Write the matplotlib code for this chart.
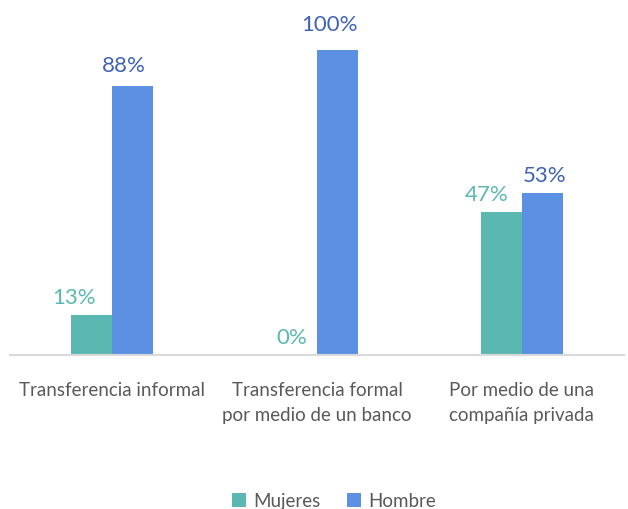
import matplotlib
matplotlib.use("Agg")
import matplotlib.pyplot as plt
import numpy as np

categories = ["Transferencia informal", "Transferencia formal\npor medio de un banco", "Por medio de una\ncompañía privada"]
mujeres = [13, 0, 47]
hombre = [88, 100, 53]
series_names = ["Mujeres", "Hombre"]

# label nudges in pixels (layout only)
nudge_m = [(-18, 8), (-5, 8), (-15, 8)]
nudge_h = [(-9, 11), (-8, 16), (2, 8)]

plt.rcParams['font.family'] = ['Lato', 'DejaVu Sans']

fig = plt.figure(figsize=(6.28, 5.10), dpi=100)
ax = fig.add_axes([10/628, 154/510, 614/628, 346/510])
px = 72 / 100.0

x = np.arange(len(categories))
w = 0.2
c_m = "#5BB8B1"
c_h = "#5B90E3"
b1 = ax.bar(x - w/2, mujeres, w, color=c_m, label=series_names[0])
b2 = ax.bar(x + w/2, hombre, w, color=c_h, label=series_names[1])

for xi, v, (dx, dy) in zip(x - w/2, mujeres, nudge_m):
    ax.annotate(f"{v}%", (xi, v), xytext=(dx * px, dy * px), textcoords="offset points",
                ha="center", va="bottom", color="#5BB8B1", fontsize=16)
for xi, v, (dx, dy) in zip(x + w/2, hombre, nudge_h):
    ax.annotate(f"{v}%", (xi, v), xytext=(dx * px, dy * px), textcoords="offset points",
                ha="center", va="bottom", color="#3F62B8", fontsize=16)

ax.set_xlim(-0.5, 2.5)
ax.set_ylim(0, 113.4)
ax.set_xticks(x)
ax.set_xticklabels(categories, fontsize=13.5, color="#595959", linespacing=1.55)
ax.tick_params(axis="x", length=0, pad=19)
ax.set_yticks([])
for s in ["top", "right", "left"]:
    ax.spines[s].set_visible(False)
ax.spines["bottom"].set_color("#D9D9D9")
ax.spines["bottom"].set_linewidth(1.5)

fig.legend(handles=[b1, b2], labels=series_names, loc="center", bbox_to_anchor=(0.5 + 20/628, 8/510),
           ncol=2, frameon=False, fontsize=13.5, handlelength=0.75, handleheight=0.75,
           columnspacing=1.4, handletextpad=0.4, labelcolor="#595959")

fig.savefig("out.png", dpi=100)
